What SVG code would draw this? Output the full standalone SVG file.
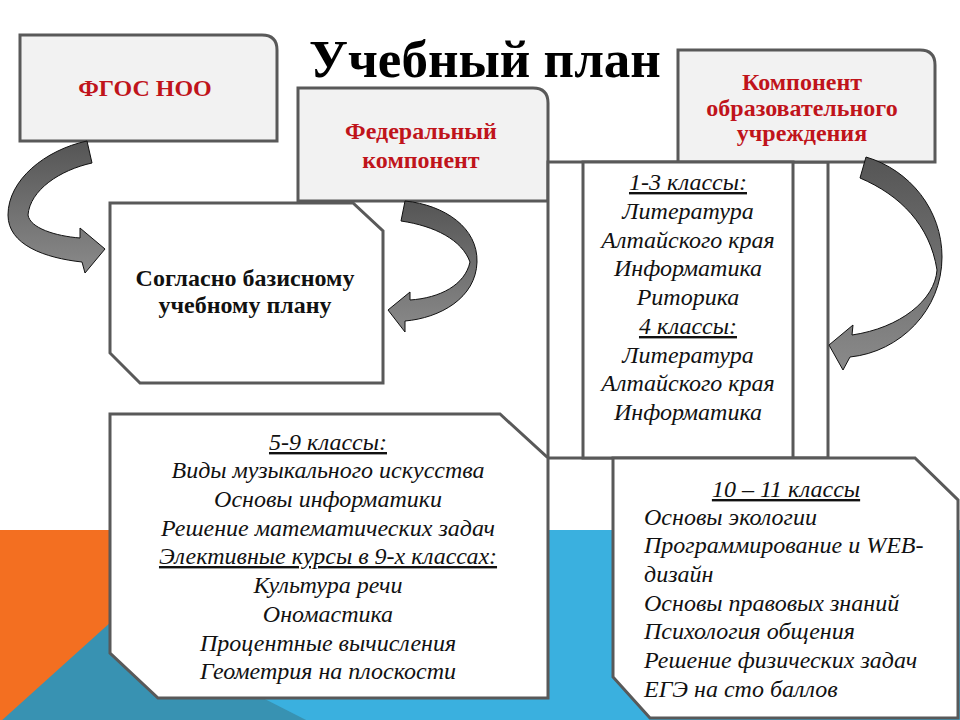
<svg xmlns="http://www.w3.org/2000/svg" width="960" height="720" viewBox="0 0 960 720">
<style>
.box{stroke:#595959;stroke-width:3;stroke-linejoin:miter}
.grey{fill:#f2f2f2}
.white{fill:#ffffff}
.red{font-family:"Liberation Serif","Times New Roman",serif;font-weight:bold;fill:#c0141b;font-size:24px;text-anchor:middle}
.blk{font-family:"Liberation Serif","Times New Roman",serif;font-weight:bold;fill:#111;font-size:24px;text-anchor:middle}
.it{font-family:"Liberation Serif","Times New Roman",serif;font-style:italic;fill:#111;font-size:24px}
.c{text-anchor:middle}
.u{text-decoration:underline}
.arrow{fill:url(#ag);stroke:#111;stroke-width:1}
</style>
<defs>
<linearGradient id="ag" x1="0" y1="0" x2="0" y2="1">
<stop offset="0" stop-color="#555"/>
<stop offset="1" stop-color="#8a8a8a"/>
</linearGradient>
</defs>
<rect x="0" y="0" width="960" height="720" fill="#ffffff"/>
<g id="background">
<rect x="0" y="530" width="115" height="190" fill="#f36f21"/>
<rect x="110" y="530" width="850" height="190" fill="#3ab0df"/>
<polygon points="0,722 112,621 310,722" fill="#3892b2"/>
</g>
<text x="485" y="77" font-family="Liberation Serif, Times New Roman, serif" font-weight="bold" font-size="53" text-anchor="middle" fill="#000">Учебный план</text>
<g id="fgos">
<path class="box grey" d="M20,35 H262 Q277,35 277,50 V141 H20 Z"/>
<text class="red" x="145" y="96" font-size="26">ФГОС НОО</text>
</g>
<g id="federal">
<path class="box grey" d="M298,88 H533 Q548,88 548,103 V201 H298 Z"/>
<text class="red" x="421" y="139">Федеральный</text>
<text class="red" x="421" y="168">компонент</text>
</g>
<g id="school-area">
<rect class="box white" x="548" y="162" width="280" height="296"/>
</g>
<g id="component">
<path class="box grey" d="M678,50 H920 Q935,50 935,65 V162 H678 Z"/>
<text class="red" x="802" y="90">Компонент</text>
<text class="red" x="802" y="116">образовательного</text>
<text class="red" x="802" y="141">учреждения</text>
</g>
<g id="grades-1-4">
<rect class="box white" x="583" y="162" width="210" height="296"/>
<text class="it c" x="688" y="190"><tspan class="u">1-3 классы:</tspan></text>
<text class="it c" x="688" y="219">Литература</text>
<text class="it c" x="688" y="248">Алтайского края</text>
<text class="it c" x="688" y="276">Информатика</text>
<text class="it c" x="688" y="305">Риторика</text>
<text class="it c" x="688" y="334"><tspan class="u">4 классы:</tspan></text>
<text class="it c" x="688" y="363">Литература</text>
<text class="it c" x="688" y="391">Алтайского края</text>
<text class="it c" x="688" y="420">Информатика</text>
</g>
<g id="basic-plan">
<path class="box white" d="M110,203 H353 L383,231 V383 H140 L110,353 Z"/>
<text class="blk" x="245" y="286">Согласно базисному</text>
<text class="blk" x="245" y="313">учебному плану</text>
</g>
<g id="grades-5-9">
<path class="box white" d="M110,414 H500 L548,458 V698 H158 L110,653 Z"/>
<text class="it c" x="328" y="450"><tspan class="u">5-9 классы:</tspan></text>
<text class="it c" x="328" y="478">Виды музыкального искусства</text>
<text class="it c" x="328" y="507">Основы информатики</text>
<text class="it c" x="328" y="536">Решение математических задач</text>
<text class="it c" x="328" y="564"><tspan class="u">Элективные курсы в 9-х классах:</tspan></text>
<text class="it c" x="328" y="593">Культура речи</text>
<text class="it c" x="328" y="622">Ономастика</text>
<text class="it c" x="328" y="651">Процентные вычисления</text>
<text class="it c" x="328" y="679">Геометрия на плоскости</text>
</g>
<g id="grades-10-11">
<path class="box white" d="M613,458 H915 L958,500 V718 H650 L613,677 Z"/>
<text class="it c" x="786" y="497"><tspan class="u">10 – 11 классы</tspan></text>
<text class="it" x="644" y="525">Основы экологии</text>
<text class="it" x="644" y="553">Программирование и WEB-</text>
<text class="it" x="644" y="582">дизайн</text>
<text class="it" x="644" y="611">Основы правовых знаний</text>
<text class="it" x="644" y="639">Психология общения</text>
<text class="it" x="644" y="668">Решение физических задач</text>
<text class="it" x="644" y="697">ЕГЭ на сто баллов</text>
</g>
<g id="connectors">
<path class="arrow" d="M87,141 C45,150 8,180 8,215 C8,245 45,258 82,262 L85,273 L105,249 L80,228 L80,238 C55,236 30,228 28,215 C30,190 60,170 92,163 Z"/>
<path class="arrow" d="M405,201 C445,205 478,228 477,262 C476,298 440,318 405,321 L405,332 L388,310 L410,292 L410,300 C440,298 465,285 470,262 C462,240 435,226 401,221 Z"/>
<path class="arrow" d="M866,157 C910,170 942,210 942,257 C942,310 900,352 850,357 L843,370 L829,345 L853,325 L852,335 C900,328 935,300 937,270 C930,225 900,195 860,178 Z"/>
</g>
</svg>
